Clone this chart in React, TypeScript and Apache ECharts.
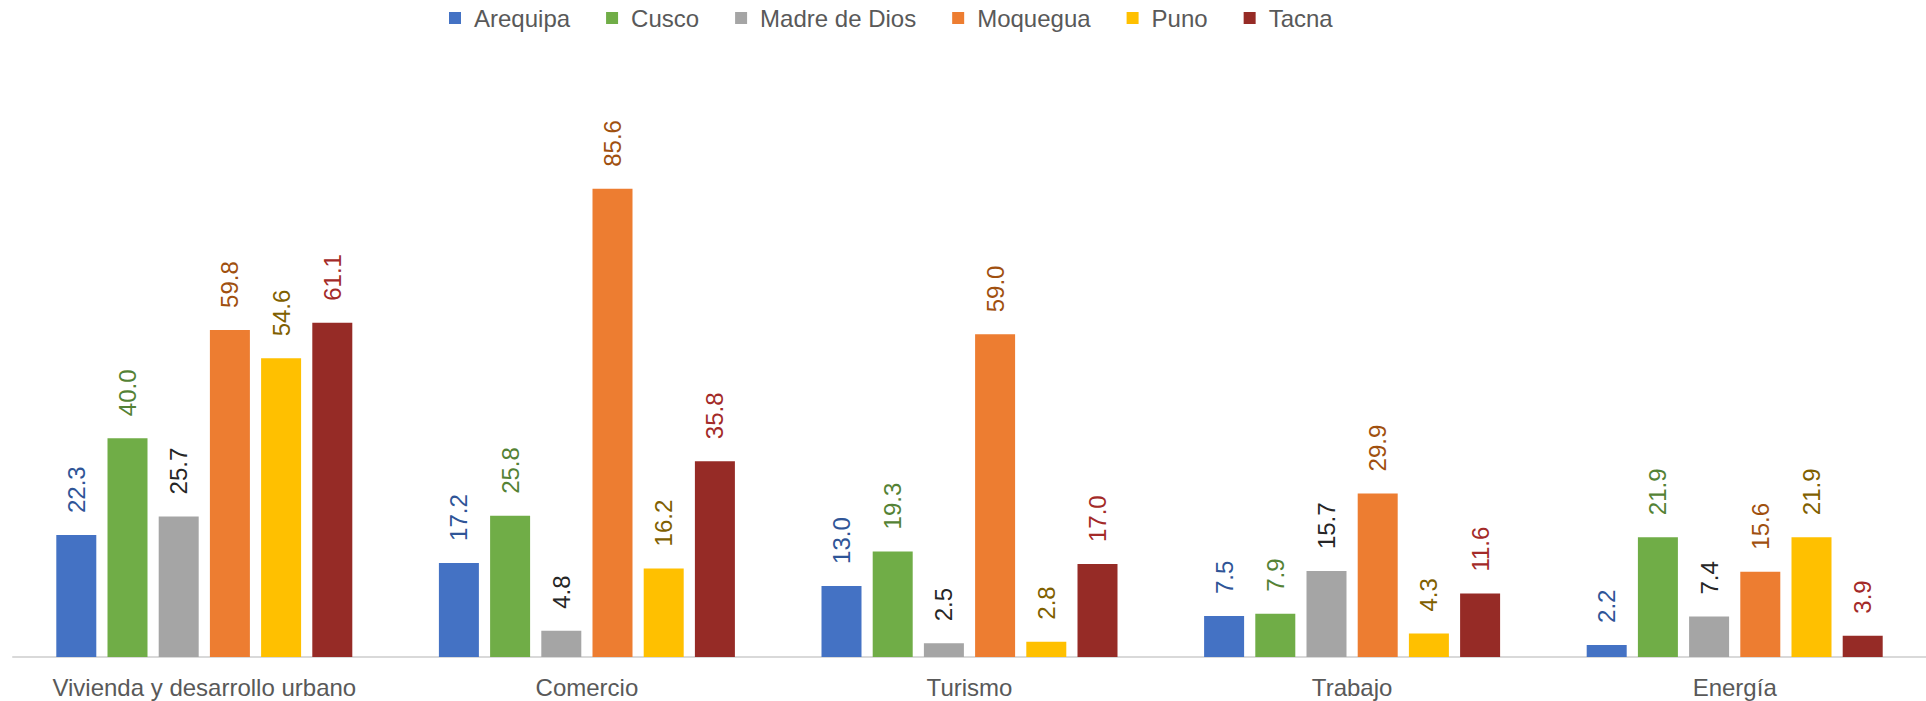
import React, { useEffect, useRef } from "react";
import * as echarts from "echarts";

const categories = ["Vivienda y desarrollo urbano", "Comercio", "Turismo", "Trabajo", "Energía"];
const regions = ["Arequipa", "Cusco", "Madre de Dios", "Moquegua", "Puno", "Tacna"];
const arequipa = [22.3, 17.2, 13.0, 7.5, 2.2];
const cusco = [40.0, 25.8, 19.3, 7.9, 21.9];
const madreDeDios = [25.7, 4.8, 2.5, 15.7, 7.4];
const moquegua = [59.8, 85.6, 59.0, 29.9, 15.6];
const puno = [54.6, 16.2, 2.8, 4.3, 21.9];
const tacna = [61.1, 35.8, 17.0, 11.6, 3.9];

const seriesValues = [arequipa, cusco, madreDeDios, moquegua, puno, tacna];
const barColors = ["#4472C4", "#70AD47", "#A5A5A5", "#ED7D31", "#FFC000", "#962B26"];
const labelColors = ["#2F5597", "#548235", "#262626", "#A0500F", "#7F6000", "#A32A28"];

const FONT = "'Liberation Sans', Arial, sans-serif";

export default function App() {
  const ref = useRef<HTMLDivElement>(null);
  useEffect(() => {
    document.body.style.margin = "0";
    if (!ref.current) return;
    const chart = echarts.init(ref.current, undefined, { renderer: "svg" });
    chart.setOption({
      animation: false,
      backgroundColor: "#ffffff",
      legend: {
        left: 444,
        top: 1,
        itemWidth: 12,
        itemHeight: 12,
        itemGap: 36,
        icon: "rect",
        textStyle: { fontFamily: FONT, fontSize: 24, color: "#595959", padding: [0, 0, 0, 8] },
        data: regions,
      },
      grid: { left: 13, width: 1921, top: 110, bottom: 44 },
      xAxis: {
        type: "category",
        data: categories,
        axisLine: { show: true, lineStyle: { color: "#D9D9D9", width: 2 } },
        axisTick: { show: false },
        axisLabel: { interval: 0, fontFamily: FONT, fontSize: 24, color: "#595959", margin: 18 },
      },
      yAxis: {
        type: "value",
        min: 0,
        max: 100,
        show: false,
        splitLine: { show: false },
      },
      series: regions.map((name, i) => ({
        name,
        type: "bar",
        data: seriesValues[i],
        barWidth: 40,
        barGap: "28%",
        itemStyle: { color: barColors[i] },
        label: {
          show: true,
          position: "top",
          rotate: 90,
          align: "left",
          verticalAlign: "middle",
          distance: 22,
          fontFamily: FONT,
          fontSize: 24,
          color: labelColors[i],
          formatter: (p: any) => Number(p.value).toFixed(1),
        },
      })),
    });
    return () => chart.dispose();
  }, []);
  return <div ref={ref} style={{ width: 1926, height: 701 }} />;
}
